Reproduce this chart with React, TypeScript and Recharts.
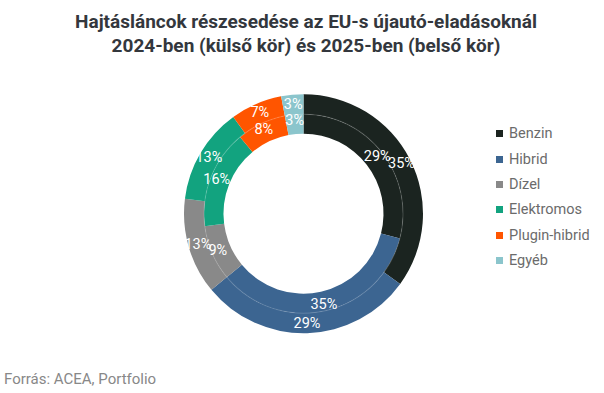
import React from "react";
import { PieChart, Pie, Cell } from "recharts";

const categories = ["Benzin", "Hibrid", "Dízel", "Elektromos", "Plugin-hibrid", "Egyéb"];
const colors = ["#1b2420", "#3c6591", "#898989", "#12a37f", "#ff5500", "#8bc5cc"];
const share2024 = [35, 29, 13, 13, 7, 3];
const share2025 = [29, 35, 9, 16, 8, 3];

const outerData = categories.map((name, i) => ({ name, value: share2024[i] }));
const innerData = categories.map((name, i) => ({ name, value: share2025[i] }));
const ringLine = [{ name: "sep", value: 1 }];

const RADIAN = Math.PI / 180;
const FONT = "Roboto, 'Noto Sans', sans-serif";

const makeLabel = (shift: number) => (props: any) => {
  const { cx, cy, midAngle, innerRadius, outerRadius, value } = props;
  const r = (innerRadius + outerRadius) / 2 + shift;
  const x = cx + r * Math.cos(-midAngle * RADIAN);
  const y = cy + r * Math.sin(-midAngle * RADIAN);
  return (
    <text
      x={x}
      y={y}
      fill="#ffffff"
      fontSize={14.5}
      fontFamily={FONT}
      textAnchor="middle"
      dominantBaseline="central"
    >
      {`${value}%`}
    </text>
  );
};

export default function App() {
  return (
    <div style={{ position: "absolute", left: 0, top: 0, width: 604, height: 393, background: "#fff", fontFamily: FONT }}>
      <div
        style={{
          position: "absolute",
          left: 0,
          top: 10,
          width: 612,
          textAlign: "center",
          fontSize: 19,
          fontWeight: 700,
          lineHeight: "24px",
          color: "#33373d",
        }}
      >
        Hajtásláncok részesedése az EU-s újautó-eladásoknál
        <br />
        2024-ben (külső kör) és 2025-ben (belső kör)
      </div>
      <div style={{ position: "absolute", left: 0, top: 0 }}>
        <PieChart width={604} height={393} margin={{ top: 0, right: 0, bottom: 0, left: 0 }}>
          <Pie
            data={innerData}
            dataKey="value"
            cx={303.5}
            cy={213.7}
            innerRadius={80}
            outerRadius={99.6}
            startAngle={90}
            endAngle={-270}
            stroke="none"
            isAnimationActive={false}
            label={makeLabel(3.5)}
            labelLine={false}
          >
            {innerData.map((d, i) => (
              <Cell key={d.name} fill={colors[i]} />
            ))}
          </Pie>
          <Pie
            data={outerData}
            dataKey="value"
            cx={303.5}
            cy={213.7}
            innerRadius={99.4}
            outerRadius={119.5}
            startAngle={90}
            endAngle={-270}
            stroke="none"
            isAnimationActive={false}
            label={makeLabel(0.5)}
            labelLine={false}
          >
            {outerData.map((d, i) => (
              <Cell key={d.name} fill={colors[i]} />
            ))}
          </Pie>
          <Pie
            data={ringLine}
            dataKey="value"
            cx={303.5}
            cy={213.7}
            innerRadius={99}
            outerRadius={100}
            startAngle={90}
            endAngle={-270}
            stroke="none"
            fill="#ffffff"
            fillOpacity={0.18}
            isAnimationActive={false}
          />
        </PieChart>
      </div>
      <div style={{ position: "absolute", left: 496, top: 121 }}>
        {categories.map((c, i) => (
          <div key={c} style={{ display: "flex", alignItems: "center", height: 25.4, fontSize: 14.5, color: "#6b6b6b" }}>
            <span style={{ display: "inline-block", width: 7, height: 7, background: colors[i], marginRight: 6 }} />
            <span>{c}</span>
          </div>
        ))}
      </div>
      <div style={{ position: "absolute", left: 4, top: 370, fontSize: 15, color: "#888" }}>
        Forrás: ACEA, Portfolio
      </div>
    </div>
  );
}
